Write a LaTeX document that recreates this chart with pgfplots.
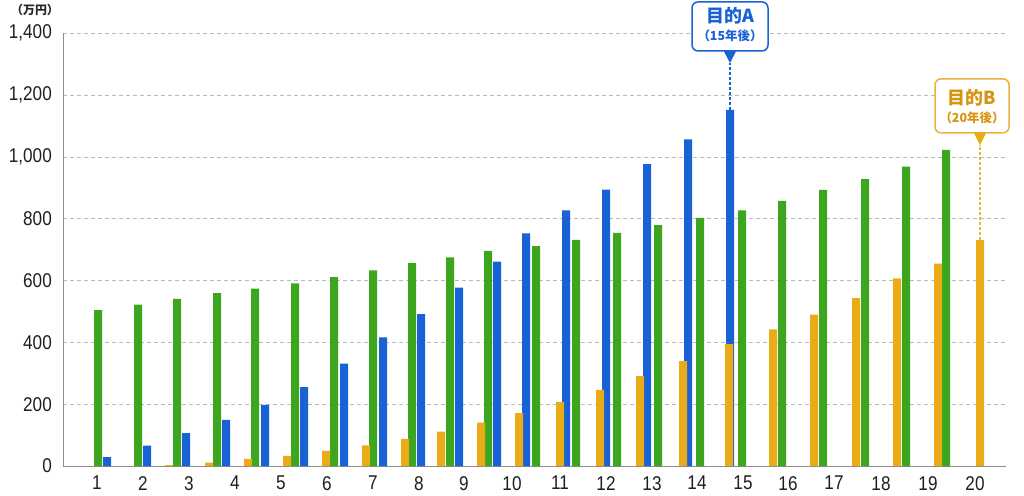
\documentclass[border=0pt]{standalone}
\usepackage{fontspec}
\setmainfont{Liberation Sans}
\newfontfamily\tickfont[FakeStretch=0.86]{Liberation Sans}
\newfontfamily\cjk{Noto Sans CJK JP}
\usepackage{pgfplots}
\pgfplotsset{compat=1.18}
\definecolor{gcol}{HTML}{3BA61E}
\definecolor{bcol}{HTML}{1862D6}
\definecolor{ycol}{HTML}{E9AB16}
\definecolor{ytext}{HTML}{D69410}
\definecolor{yline}{HTML}{EBB23C}
\begin{document}
\begin{tikzpicture}
\useasboundingbox (0,0) rectangle (1024bp,496bp);
\begin{axis}[
  at={(63bp,30bp)}, anchor=south west,
  scale only axis, width=943bp, height=432.7bp,
  xmin=63, xmax=1006, ymin=0, ymax=1400,
  axis x line=bottom, axis y line=left,
  axis line style={draw=black!45, line width=1bp, -},
  xtick={97,143,189,235,281,327,373,419,464,512,560,606,652,697,743,788,834,881,928,975},
  xticklabels={1,2,3,4,5,6,7,8,9,10,11,12,13,14,15,16,17,18,19,20},
  ytick={0,200,400,600,800,1000,1200,1400},
  yticklabels={0,200,400,600,800,{1,000},{1,200},{1,400}},
  ymajorgrids,
  grid style={draw=black!28, dash pattern=on 4bp off 3bp, line width=0.8bp},
  major tick length=0pt,
  tick label style={font=\tickfont\fontsize{20}{24}\selectfont, text=black!88},
  yticklabel style={anchor=east, inner sep=0pt, xshift=-11bp},
  xticklabel style={anchor=north, inner sep=0pt, yshift=-10bp},
  clip=false,
]
% green series
\addplot[ybar, bar shift=0pt, bar width=8bp, fill=gcol, draw=none] coordinates {
(98,504) (138,522) (177,541) (217,559) (255,574) (295,591) (334,611) (373,633)
(412,656) (450,675) (488,696) (536,711) (576,732) (617,754) (658,779) (700,803)
(742,827) (782,858) (823,893) (865,928) (906,969) (946,1023)};
% blue series
\addplot[ybar, bar shift=0pt, bar width=8bp, fill=bcol, draw=none] coordinates {
(107,29) (147,66) (186,106) (226,149) (265,198) (304,255) (344,331) (383,416)
(421,491) (459,577) (497,661) (526,753) (566,827) (606,894) (647,977) (688,1057)
(730,1152)};
% yellow series
\addplot[ybar, bar shift=0pt, bar width=8bp, fill=ycol, draw=none] coordinates {
(169,3) (209,11) (248,23) (287,33) (326,49) (366,67) (405,88) (441,111)
(481,140) (519,171) (560,207) (600,246) (640,291) (683,339) (729,394) (773,442)
(814,490) (856,543) (897,607) (938,655) (980,731)};
% callout A
\draw[bcol, dash pattern=on 3bp off 2bp, line width=1.2bp] (axis cs:730,1152) -- (axis cs:730,1304);
\draw[bcol, line width=1.5bp, rounded corners=6bp, fill=white]
  (axis cs:730,1304) ++(-38bp,12bp) rectangle ++(76bp,49bp);
\fill[bcol] (axis cs:730,1304) -- ++(-6.5bp,12.5bp) -- ++(13bp,0bp) -- cycle;
\path (axis cs:730,1304) ++(0bp,47bp) node[text=bcol, font=\cjk\bfseries\fontsize{18}{20}\selectfont] {目的A};
\path (axis cs:730,1304) ++(0bp,27bp) node[text=bcol, font=\cjk\bfseries\fontsize{12.5}{14}\selectfont] {（15年後）};
% callout B
\draw[yline, dash pattern=on 3bp off 2bp, line width=1.2bp] (axis cs:980,731) -- (axis cs:980,1039);
\draw[yline, line width=1.5bp, rounded corners=6bp, fill=white]
  (axis cs:980,1039) ++(-45bp,12bp) rectangle ++(74bp,54bp);
\fill[ycol] (axis cs:980,1039) -- ++(-6.5bp,12.5bp) -- ++(13bp,0bp) -- cycle;
\path (axis cs:980,1039) ++(-8bp,47bp) node[text=ytext, font=\cjk\bfseries\fontsize{18}{20}\selectfont] {目的B};
\path (axis cs:980,1039) ++(-8bp,27bp) node[text=ytext, font=\cjk\bfseries\fontsize{12.5}{14}\selectfont] {（20年後）};
\end{axis}
\node[font=\cjk\bfseries\fontsize{12}{14}\selectfont, text=black!85] at (35bp,486bp) {（万円）};
\end{tikzpicture}
\end{document}
